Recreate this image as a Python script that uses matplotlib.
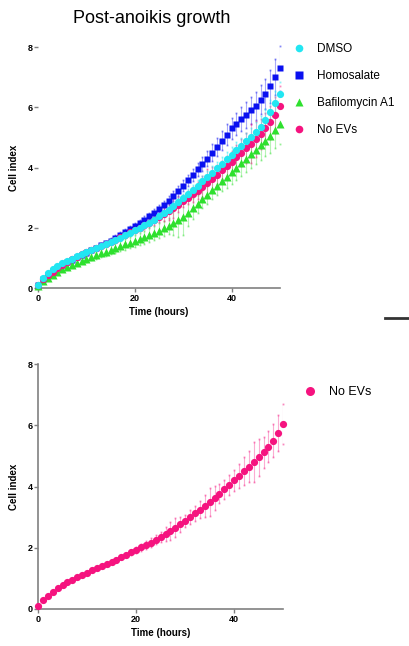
import numpy as np
import matplotlib
matplotlib.use("Agg")
import matplotlib.pyplot as plt
from matplotlib.lines import Line2D

plt.rcParams['font.family'] = ['Liberation Sans', 'DejaVu Sans']

# time points (hours)
time_h = list(range(0, 51))

dmso = [0.10, 0.35, 0.50, 0.62, 0.72, 0.82, 0.90, 0.98, 1.05, 1.12,
        1.19, 1.26, 1.33, 1.40, 1.47, 1.54, 1.61, 1.68, 1.76, 1.84,
        1.92, 2.00, 2.08, 2.17, 2.27, 2.38, 2.49, 2.61, 2.73, 2.86,
        2.99, 3.12, 3.26, 3.40, 3.54, 3.68, 3.83, 3.98, 4.13, 4.28,
        4.43, 4.58, 4.73, 4.88, 5.03, 5.18, 5.36, 5.58, 5.85, 6.15, 6.45]
dmso_sd = [0.05, 0.05, 0.05, 0.05, 0.05, 0.05, 0.05, 0.05, 0.06, 0.06,
           0.06, 0.06, 0.07, 0.07, 0.07, 0.08, 0.08, 0.08, 0.09, 0.09,
           0.10, 0.10, 0.10, 0.11, 0.11, 0.12, 0.12, 0.13, 0.14, 0.14,
           0.15, 0.16, 0.17, 0.18, 0.19, 0.20, 0.21, 0.22, 0.23, 0.24,
           0.25, 0.26, 0.27, 0.28, 0.30, 0.32, 0.34, 0.36, 0.38, 0.40, 0.40]

homosalate = [0.10, 0.30, 0.45, 0.58, 0.68, 0.77, 0.86, 0.94, 1.02, 1.10,
              1.18, 1.26, 1.34, 1.42, 1.50, 1.58, 1.67, 1.76, 1.86, 1.96,
              2.06, 2.16, 2.27, 2.38, 2.50, 2.62, 2.75, 2.90, 3.05, 3.22,
              3.40, 3.58, 3.76, 3.94, 4.12, 4.30, 4.50, 4.70, 4.90, 5.10,
              5.30, 5.45, 5.60, 5.75, 5.90, 6.05, 6.25, 6.45, 6.70, 7.00, 7.30]
homosalate_sd = [0.04, 0.04, 0.05, 0.05, 0.05, 0.05, 0.05, 0.06, 0.06, 0.06,
                 0.06, 0.07, 0.07, 0.07, 0.08, 0.08, 0.08, 0.09, 0.09, 0.10,
                 0.10, 0.11, 0.11, 0.12, 0.12, 0.13, 0.14, 0.15, 0.16, 0.17,
                 0.18, 0.19, 0.20, 0.22, 0.24, 0.26, 0.28, 0.30, 0.32, 0.34,
                 0.36, 0.38, 0.40, 0.42, 0.44, 0.46, 0.48, 0.50, 0.55, 0.60, 0.75]

bafilomycin = [0.08, 0.25, 0.35, 0.45, 0.54, 0.62, 0.70, 0.77, 0.84, 0.91,
               0.97, 1.03, 1.09, 1.15, 1.21, 1.27, 1.33, 1.39, 1.45, 1.51,
               1.57, 1.63, 1.69, 1.76, 1.83, 1.90, 1.98, 2.06, 2.15, 2.25,
               2.36, 2.50, 2.65, 2.80, 2.95, 3.10, 3.25, 3.40, 3.55, 3.70,
               3.85, 4.00, 4.15, 4.30, 4.45, 4.60, 4.75, 4.90, 5.05, 5.25, 5.45]
bafilomycin_sd = [0.04, 0.04, 0.05, 0.05, 0.05, 0.06, 0.06, 0.07, 0.08, 0.09,
                  0.10, 0.11, 0.12, 0.13, 0.14, 0.15, 0.16, 0.17, 0.18, 0.19,
                  0.20, 0.21, 0.22, 0.23, 0.24, 0.25, 0.26, 0.27, 0.40, 0.55,
                  0.60, 0.45, 0.35, 0.30, 0.30, 0.30, 0.30, 0.32, 0.34, 0.36,
                  0.38, 0.40, 0.42, 0.44, 0.46, 0.48, 0.50, 0.52, 0.55, 0.60, 0.65]

no_evs = [0.10, 0.30, 0.42, 0.55, 0.67, 0.77, 0.87, 0.96, 1.04, 1.12,
          1.19, 1.26, 1.33, 1.40, 1.47, 1.54, 1.61, 1.69, 1.77, 1.85,
          1.93, 2.01, 2.09, 2.17, 2.26, 2.35, 2.45, 2.55, 2.66, 2.77,
          2.88, 3.00, 3.12, 3.24, 3.37, 3.50, 3.63, 3.77, 3.91, 4.05,
          4.20, 4.35, 4.50, 4.65, 4.80, 4.95, 5.12, 5.30, 5.50, 5.75, 6.05]
no_evs_sd = [0.04, 0.04, 0.04, 0.04, 0.04, 0.04, 0.05, 0.05, 0.05, 0.05,
             0.05, 0.05, 0.06, 0.06, 0.06, 0.06, 0.07, 0.07, 0.07, 0.08,
             0.10, 0.12, 0.14, 0.14, 0.15, 0.16, 0.22, 0.30, 0.32, 0.25,
             0.20, 0.22, 0.25, 0.28, 0.35, 0.45, 0.40, 0.32, 0.30, 0.32,
             0.35, 0.40, 0.45, 0.50, 0.65, 0.60, 0.50, 0.50, 0.55, 0.60, 0.65]

series = [
    ("Homosalate", homosalate, homosalate_sd, "#0a10f0", "s", 4.8),
    ("Bafilomycin A1", bafilomycin, bafilomycin_sd, "#2ee02e", "^", 5.2),
    ("No EVs", no_evs, no_evs_sd, "#f5137f", "o", 5.2),
    ("DMSO", dmso, dmso_sd, "#22e6f2", "o", 5.2),
]
legend_order = ["DMSO", "Homosalate", "Bafilomycin A1", "No EVs"]


def draw_series(ax, t, y, sd, col, mk, ms):
    t = np.array(t)
    y = np.array(y)
    sd = np.array(sd)
    ax.vlines(t, y - sd, y + sd, colors=col, alpha=0.35, lw=0.8, zorder=2)
    ax.plot(t, y + sd, ls='none', marker='s', ms=1.3, color=col, alpha=0.5, mec='none', zorder=2)
    ax.plot(t, y - sd, ls='none', marker='s', ms=1.3, color=col, alpha=0.5, mec='none', zorder=2)
    ax.plot(t, y, ls='none', marker=mk, ms=ms, color=col, mec='none', zorder=3)


def style_axes(ax, show_y_spine):
    ax.set_xlim(0, 50)
    ax.set_ylim(0, 8)
    ax.set_xticks([0, 20, 40])
    ax.set_yticks([0, 2, 4, 6, 8])
    for s in ['top', 'right']:
        ax.spines[s].set_visible(False)
    ax.spines['bottom'].set_color('#808080')
    ax.spines['bottom'].set_linewidth(1.2)
    ax.spines['left'].set_color('#808080')
    ax.spines['left'].set_linewidth(1.2)
    ax.spines['left'].set_visible(show_y_spine)
    ax.tick_params(axis='both', labelsize=6.5, length=3, width=1, color='#808080', pad=1)
    for lab in ax.get_xticklabels() + ax.get_yticklabels():
        lab.set_fontweight('bold')
    ax.set_xlabel('Time (hours)', fontsize=7, fontweight='bold', labelpad=3)
    ax.set_ylabel('Cell index', fontsize=7, fontweight='bold', labelpad=6)


fig = plt.figure(figsize=(4.10, 6.46), dpi=100)

# top panel
ax1 = fig.add_axes([0.0927, 0.554, 0.590, 0.373])
for name, y, sd, col, mk, ms in series:
    draw_series(ax1, time_h, y, sd, col, mk, ms)
style_axes(ax1, False)
for ln in ax1.lines:
    ln.set_clip_on(False)
fig.text(0.37, 0.972, 'Post-anoikis growth', fontsize=13, ha='center', va='center')

handles = []
lookup = {s[0]: s for s in series}
for name in legend_order:
    _, _, _, col, mk, ms = lookup[name]
    handles.append(Line2D([], [], ls='none', marker=mk, ms=5.5, color=col, mec='none'))
ax1.legend(handles, legend_order, loc='upper left', bbox_to_anchor=(1.03, 1.035),
           frameon=False, fontsize=8.5, handletextpad=0.9, labelspacing=1.25,
           handlelength=1.2, borderaxespad=0)

# bottom panel
ax2 = fig.add_axes([0.0927, 0.0573, 0.598, 0.379])
draw_series(ax2, time_h, no_evs, no_evs_sd, "#f5137f", "o", 5.2)
style_axes(ax2, True)
for ln in ax2.lines:
    ln.set_clip_on(False)
h2 = [Line2D([], [], ls='none', marker='o', ms=6.5, color="#f5137f", mec='none')]
ax2.legend(h2, ["No EVs"], loc='upper left', bbox_to_anchor=(1.06, 0.93),
           frameon=False, fontsize=9, handletextpad=0.9, handlelength=1.2,
           borderaxespad=0)

# stray separator stroke at right edge
fig.add_artist(Line2D([385 / 410, 1.0], [1 - 318 / 646, 1 - 318 / 646],
                      color='#333333', lw=2, transform=fig.transFigure))

fig.savefig('out.png', dpi=100)
